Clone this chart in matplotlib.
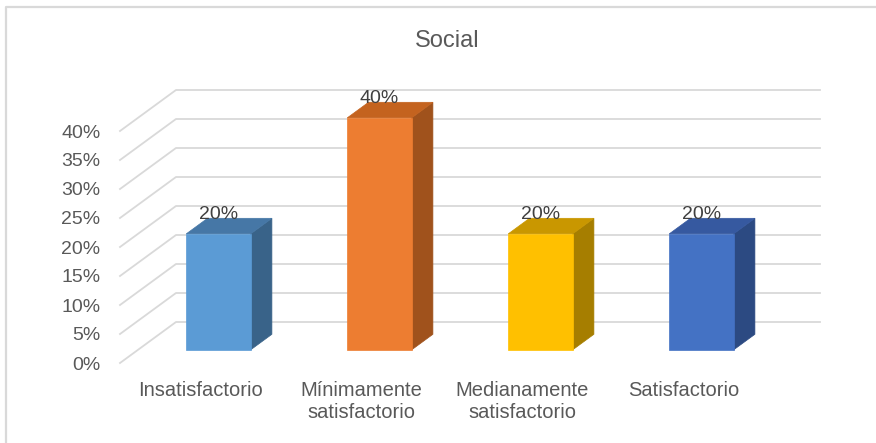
import matplotlib
matplotlib.use('Agg')
import matplotlib.pyplot as plt
from matplotlib.patches import Polygon
from matplotlib.lines import Line2D
import numpy as np

plt.rcParams['font.family'] = ['Liberation Sans', 'DejaVu Sans']

# data
categories = ['Insatisfactorio', 'Mínimamente\nsatisfactorio',
              'Medianamente\nsatisfactorio', 'Satisfactorio']
values = [20, 40, 20, 20]
yticks = [0, 5, 10, 15, 20, 25, 30, 35, 40]
title = 'Social'

front_cols = ['#5B9BD5', '#ED7D31', '#FFC000', '#4472C4']
top_cols = ['#4677A6', '#C4631F', '#C99700', '#3659A0']
side_cols = ['#396389', '#A0521C', '#A67E00', '#2C4A82']

# 3D look: depth offset in pixels (back wall is at d=1)
DX, DY = 56, 41
BAR_D0, BAR_D1 = 0.32, 0.70
BAR_W = 0.40

W, H = 876, 443
fig = plt.figure(figsize=(W / 100, H / 100), dpi=100)
ax = fig.add_axes([120 / W, 80 / H, 644 / W, 232 / H])
ax.set_xlim(-0.5, len(categories) - 0.5)
ax.set_ylim(0, 40)
for s in ax.spines.values():
    s.set_visible(False)
ax.patch.set_alpha(0)


def proj(x, y, d):
    px, py = ax.transData.transform((x, y))
    return (px + DX * d, py + DY * d)


grid_c = '#D9D9D9'
x0, x1 = ax.get_xlim()
for v in yticks:
    # side wall diagonal + back wall line
    pts = np.array([proj(x0, v, 0), proj(x0, v, 1), proj(x1, v, 1)])
    fig.add_artist(Line2D(pts[:, 0], pts[:, 1], color=grid_c, lw=1.3,
                          transform=None, zorder=1))

for i, (v, fc, tc, sc) in enumerate(zip(values, front_cols, top_cols, side_cols)):
    l, r = i - BAR_W / 2, i + BAR_W / 2
    front = [proj(l, 0, BAR_D0), proj(r, 0, BAR_D0), proj(r, v, BAR_D0), proj(l, v, BAR_D0)]
    side = [proj(r, 0, BAR_D0), proj(r, 0, BAR_D1), proj(r, v, BAR_D1), proj(r, v, BAR_D0)]
    top = [proj(l, v, BAR_D0), proj(r, v, BAR_D0), proj(r, v, BAR_D1), proj(l, v, BAR_D1)]
    for poly, c in [(side, sc), (top, tc), (front, fc)]:
        fig.add_artist(Polygon(poly, closed=True, facecolor=c, edgecolor=c,
                               lw=0.5, transform=None, zorder=3))
    lx, ly = proj(i, v, BAR_D0)
    fig.text(lx / W, (ly + 15) / H, f'{v}%', ha='center', va='baseline',
             fontsize=14, color='#404040', zorder=5)

ax.set_yticks(yticks)
ax.set_yticklabels([f'{v}%' for v in yticks])
ax.set_xticks(range(len(categories)))
ax.set_xticklabels(categories, linespacing=1.2)
ax.tick_params(axis='y', length=0, pad=14, labelsize=14, labelcolor='#595959')
ax.tick_params(axis='x', length=0, pad=13, labelsize=14.5, labelcolor='#595959')

fig.text(447 / W, 1 - 41 / H, title, ha='center', va='center',
         fontsize=17, color='#595959')

# chart border (top and left edges visible)
fig.add_artist(Line2D([6 / W, 6 / W, 1], [0, 1 - 7 / H, 1 - 7 / H],
                      color='#D9D9D9', lw=1.6, transform=fig.transFigure))

fig.savefig('out.png', dpi=100)
